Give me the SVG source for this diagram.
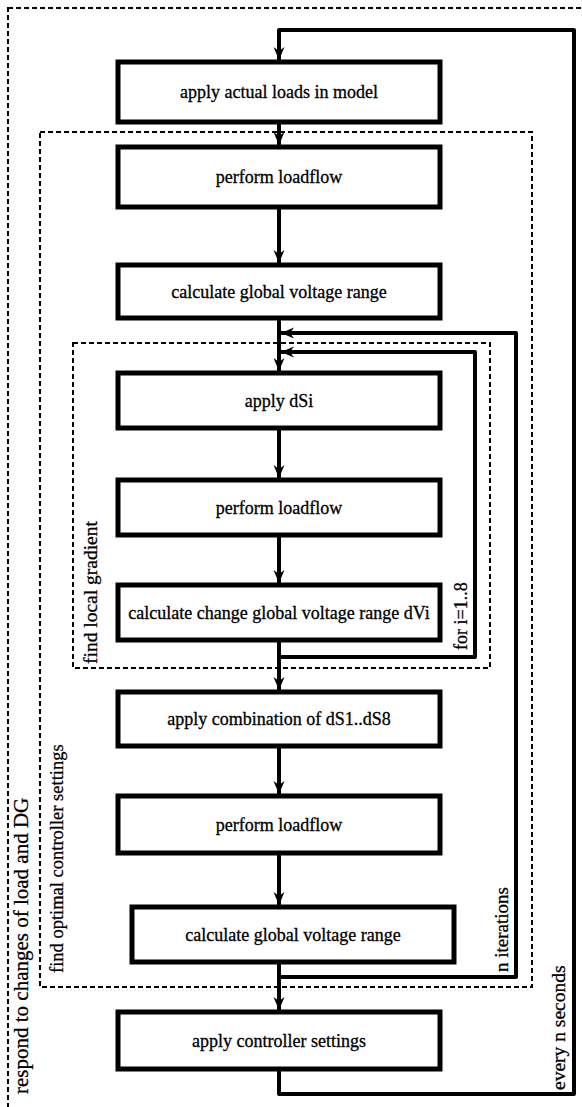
<svg xmlns="http://www.w3.org/2000/svg" width="582" height="1107" viewBox="0 0 582 1107">
<style>
.box{fill:#fff;stroke:#000;stroke-width:5;}
text{font-family:"Liberation Serif","Times New Roman","DejaVu Serif",serif;font-size:18px;fill:#000;stroke:#000;stroke-width:0.3;}
.lbl{text-anchor:middle;}
.dash{fill:none;stroke:#000;stroke-width:2;stroke-dasharray:5,3;}
.ln{fill:none;stroke:#000;stroke-width:4;stroke-linejoin:round;}
</style>
<defs>
<marker id="ah" viewBox="-14 -6 16 12" refX="0" refY="0" markerWidth="16" markerHeight="12" markerUnits="userSpaceOnUse" orient="auto">
<path d="M0,0 L-13,-5.5 L-9,0 L-13,5.5 Z" fill="#000"/>
</marker>
</defs>
<rect id="grp-respond" class="dash" x="8" y="8" width="600" height="1130"/>
<rect id="grp-optimal" class="dash" x="40" y="132" width="492" height="855"/>
<rect id="grp-gradient" class="dash" x="73" y="343" width="417" height="325"/>
<g id="connectors">
<polyline class="ln" points="279,1069 279,1094 574,1094 574,30 279,30 279,60" marker-end="url(#ah)"/>
<line class="ln" x1="279" y1="122" x2="279" y2="145" marker-end="url(#ah)"/>
<line class="ln" x1="279" y1="207" x2="279" y2="263" marker-end="url(#ah)"/>
<line class="ln" x1="279" y1="318" x2="279" y2="371" marker-end="url(#ah)"/>
<polyline class="ln" points="279,977 516,977 516,333 281,333" marker-end="url(#ah)"/>
<polyline class="ln" points="279,657 475,657 475,352 281,352" marker-end="url(#ah)"/>
<line class="ln" x1="279" y1="428" x2="279" y2="478" marker-end="url(#ah)"/>
<line class="ln" x1="279" y1="535" x2="279" y2="583" marker-end="url(#ah)"/>
<line class="ln" x1="279" y1="640" x2="279" y2="690" marker-end="url(#ah)"/>
<line class="ln" x1="279" y1="746" x2="279" y2="794" marker-end="url(#ah)"/>
<line class="ln" x1="279" y1="853" x2="279" y2="905" marker-end="url(#ah)"/>
<line class="ln" x1="279" y1="962" x2="279" y2="1010" marker-end="url(#ah)"/>
</g>
<g id="n1"><rect class="box" x="118" y="62" width="322" height="60"/><text class="lbl" x="279" y="98">apply actual loads in model</text></g>
<g id="n2"><rect class="box" x="118" y="147" width="322" height="60"/><text class="lbl" x="279" y="183">perform loadflow</text></g>
<g id="n3"><rect class="box" x="118" y="265" width="322" height="53"/><text class="lbl" x="279" y="298">calculate global voltage range</text></g>
<g id="n4"><rect class="box" x="118" y="373" width="322" height="55"/><text class="lbl" x="279" y="407">apply dSi</text></g>
<g id="n5"><rect class="box" x="118" y="480" width="322" height="55"/><text class="lbl" x="279" y="514">perform loadflow</text></g>
<g id="n6"><rect class="box" x="118" y="585" width="322" height="55"/><text class="lbl" x="279" y="619">calculate change global voltage range dVi</text></g>
<g id="n7"><rect class="box" x="118" y="692" width="322" height="54"/><text class="lbl" x="279" y="725">apply combination of dS1..dS8</text></g>
<g id="n8"><rect class="box" x="118" y="796" width="322" height="57"/><text class="lbl" x="279" y="831">perform loadflow</text></g>
<g id="n9"><rect class="box" x="132" y="907" width="322" height="55"/><text class="lbl" x="293" y="941">calculate global voltage range</text></g>
<g id="n10"><rect class="box" x="118" y="1012" width="322" height="57"/><text class="lbl" x="279" y="1047">apply controller settings</text></g>
<text transform="translate(28,1094) rotate(-90)" style="font-size:21px">respond to changes of load and DG</text>
<text transform="translate(63,973) rotate(-90)" style="font-size:18.5px">find optimal controller settings</text>
<text transform="translate(97,664) rotate(-90)" style="font-size:19.5px">find local gradient</text>
<text transform="translate(467,650) rotate(-90)">for i=1..8</text>
<text transform="translate(508,972) rotate(-90)" style="font-size:19px">n iterations</text>
<text transform="translate(565,1090) rotate(-90)" style="font-size:19.5px">every n seconds</text>
</svg>
